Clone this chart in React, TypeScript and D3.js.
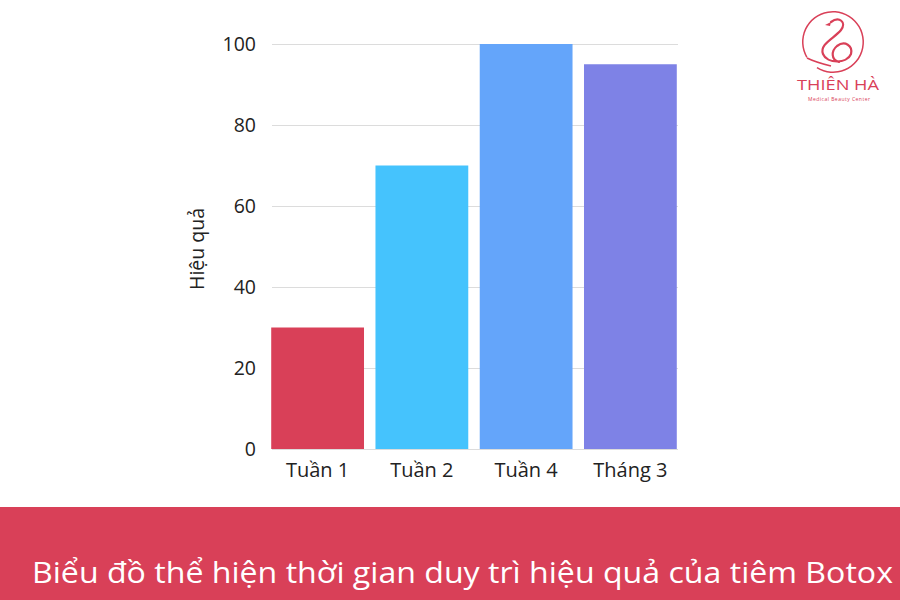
import React, { useEffect, useRef } from 'react';
import * as d3 from 'd3';

const categories = ['Tuần 1', 'Tuần 2', 'Tuần 4', 'Tháng 3'];
const values = [30, 70, 100, 95];
const colors = ['#D94058', '#45C3FD', '#64A5FA', '#7E82E6'];
const yTicks = [0, 20, 40, 60, 80, 100];
const yTitle = 'Hiệu quả';
const caption = 'Biểu đồ thể hiện thời gian duy trì hiệu quả của tiêm Botox';

const W = 900;
const H = 600;
const FONT = '"Open Sans", "Noto Sans", sans-serif';
const BRAND = '#D94058';

const App: React.FC = () => {
  const svgRef = useRef<SVGSVGElement>(null);

  useEffect(() => {
    if (!svgRef.current) return;
    const svg = d3.select(svgRef.current);
    svg.selectAll('*').remove();

    svg.append('rect').attr('width', W).attr('height', H).attr('fill', '#fff');

    const x = d3.scaleBand<string>()
      .domain(categories)
      .range([266, 682])
      .paddingInner(0.11)
      .paddingOuter(0.05);

    const y = d3.scaleLinear().domain([0, 100]).range([449, 44]);

    // grid
    svg.append('g')
      .selectAll('line')
      .data(yTicks)
      .enter()
      .append('line')
      .attr('x1', 272)
      .attr('x2', 678)
      .attr('y1', d => y(d) + 0.5)
      .attr('y2', d => y(d) + 0.5)
      .attr('stroke', '#dcdcdc')
      .attr('stroke-width', 1);

    // y tick labels
    svg.append('g')
      .selectAll('text')
      .data(yTicks)
      .enter()
      .append('text')
      .attr('x', 256)
      .attr('y', d => y(d))
      .attr('dy', '0.35em')
      .attr('text-anchor', 'end')
      .attr('font-family', FONT)
      .attr('font-size', 19.5)
      .attr('fill', '#222')
      .text(d => d);

    // bars
    svg.append('g')
      .selectAll('rect')
      .data(values)
      .enter()
      .append('rect')
      .attr('x', (_, i) => x(categories[i]) as number)
      .attr('y', d => y(d))
      .attr('width', x.bandwidth())
      .attr('height', d => y(0) - y(d))
      .attr('fill', (_, i) => colors[i]);

    // x labels
    svg.append('g')
      .selectAll('text')
      .data(categories)
      .enter()
      .append('text')
      .attr('x', d => (x(d) as number) + x.bandwidth() / 2)
      .attr('y', 477)
      .attr('text-anchor', 'middle')
      .attr('font-family', FONT)
      .attr('font-size', 20)
      .attr('fill', '#222')
      .text(d => d);

    // y title
    svg.append('text')
      .attr('transform', `translate(204,249) rotate(-90)`)
      .attr('text-anchor', 'middle')
      .attr('font-family', FONT)
      .attr('font-size', 19.5)
      .attr('fill', '#222')
      .text(yTitle);

    // bottom banner
    svg.append('rect')
      .attr('x', 0)
      .attr('y', 507)
      .attr('width', W)
      .attr('height', H - 507)
      .attr('fill', BRAND);

    svg.append('text')
      .attr('x', 32)
      .attr('y', 583)
      .attr('font-family', FONT)
      .attr('font-size', 29)
      .attr('textLength', 861)
      .attr('lengthAdjust', 'spacingAndGlyphs')
      .attr('fill', '#fff')
      .text(caption);

    // logo
    const logo = svg.append('g').attr('transform', 'translate(833,42)');
    const arc = d3.arc()({
      innerRadius: 29.5,
      outerRadius: 31,
      startAngle: -2.1,
      endAngle: 3.7,
    } as any);
    logo.append('path').attr('d', arc as string).attr('fill', BRAND);
    logo.append('path')
      .attr('d', 'M-2,-20 C6,-26 14,-20 8,-12 C2,-4 -14,2 -10,12 C-6,22 14,22 18,12 C20,4 12,-2 4,4 C-2,9 -2,18 6,20')
      .attr('fill', 'none')
      .attr('stroke', BRAND)
      .attr('stroke-width', 2.2)
      .attr('stroke-linecap', 'round');
    logo.append('path')
      .attr('d', 'M-2,-20 L-8,-17 L-3,-16 Z')
      .attr('fill', BRAND);
    logo.append('path')
      .attr('d', 'M-26,16 C-18,20 -10,22 -2,24')
      .attr('fill', 'none')
      .attr('stroke', BRAND)
      .attr('stroke-width', 1.5);

    svg.append('text')
      .attr('x', 797)
      .attr('y', 90)
      .attr('font-family', FONT)
      .attr('font-size', 15)
      .attr('textLength', 82)
      .attr('lengthAdjust', 'spacingAndGlyphs')
      .attr('fill', BRAND)
      .text('THIÊN HÀ');
    svg.append('text')
      .attr('x', 808)
      .attr('y', 101)
      .attr('font-family', FONT)
      .attr('font-size', 5)
      .attr('textLength', 62)
      .attr('fill', BRAND)
      .text('Medical Beauty Center');
  }, []);

  return (
    <svg
      ref={svgRef}
      width={W}
      height={H}
      style={{ display: 'block', position: 'absolute', left: 0, top: 0 }}
    />
  );
};

export default App;
